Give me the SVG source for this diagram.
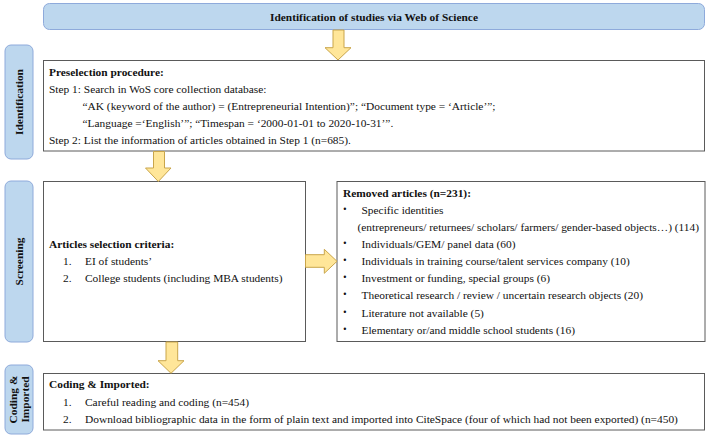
<svg xmlns="http://www.w3.org/2000/svg" width="708" height="438" viewBox="0 0 708 438">
<style>
text{font-family:"Liberation Serif","Times New Roman",serif;font-size:11.4px;fill:#111}
.b{font-weight:bold}
.lab{fill:#BDD7EE;stroke:#8EAADB;stroke-width:1}
.box{fill:#fff;stroke:#5a5a5a;stroke-width:1}
.arr{fill:#FFE699;stroke:#C9A54A;stroke-width:1}
.bul{font-family:"DejaVu Sans",sans-serif;font-size:8px}
</style>
<rect width="708" height="438" fill="#fff"/>
<g id="top">
<rect class="lab" x="43.5" y="3.5" width="661" height="26" rx="6"/>
<text class="b" x="374" y="20.5" text-anchor="middle">Identification of studies via Web of Science</text>
</g>
<g id="lab-identification">
<rect class="lab" x="5" y="45" width="28" height="114" rx="6"/>
<text class="b" transform="translate(23,102) rotate(-90)" text-anchor="middle">Identification</text>
</g>
<g id="lab-screening">
<rect class="lab" x="5" y="181" width="28" height="161" rx="6"/>
<text class="b" transform="translate(23,261.5) rotate(-90)" text-anchor="middle">Screening</text>
</g>
<g id="lab-coding">
<rect class="lab" x="5" y="365" width="28" height="69" rx="6"/>
<text class="b" transform="translate(17,399.5) rotate(-90)" text-anchor="middle">Coding &amp;</text>
<text class="b" transform="translate(29,399.5) rotate(-90)" text-anchor="middle">Imported</text>
</g>
<g id="preselection">
<rect class="box" x="43.5" y="60.5" width="661" height="90.5"/>
<text class="b" x="49" y="76">Preselection procedure:</text>
<text x="49" y="93">Step 1: Search in WoS core collection database:</text>
<text x="82.5" y="110">“AK (keyword of the author) = (Entrepreneurial Intention)”; “Document type = ‘Article’”;</text>
<text x="82.5" y="127">“Language =‘English’”; “Timespan = ‘2000-01-01 to 2020-10-31’”.</text>
<text x="49" y="144">Step 2: List the information of articles obtained in Step 1 (n=685).</text>
</g>
<g id="criteria">
<rect class="box" x="43.5" y="181.5" width="262" height="160"/>
<text class="b" x="49" y="247.5">Articles selection criteria:</text>
<text x="63" y="265">1.</text>
<text x="85" y="265">EI of students’</text>
<text x="63" y="282">2.</text>
<text x="85" y="282">College students (including MBA students)</text>
</g>
<g id="removed">
<rect class="box" x="337" y="181.5" width="368" height="160"/>
<text class="b" x="343" y="197.3">Removed articles (n=231):</text>
<text class="bul" x="342.5" y="212">•</text>
<text x="361.5" y="214">Specific identities</text>
<text x="357.5" y="230.7">(entrepreneurs/ returnees/ scholars/ farmers/ gender-based objects…) (114)</text>
<text class="bul" x="342.5" y="246">•</text>
<text x="361.5" y="248">Individuals/GEM/ panel data (60)</text>
<text class="bul" x="342.5" y="263">•</text>
<text x="361.5" y="265">Individuals in training course/talent services company (10)</text>
<text class="bul" x="342.5" y="280">•</text>
<text x="361.5" y="282">Investment or funding, special groups (6)</text>
<text class="bul" x="342.5" y="297.3">•</text>
<text x="361.5" y="299.3">Theoretical research / review / uncertain research objects (20)</text>
<text class="bul" x="342.5" y="314.7">•</text>
<text x="361.5" y="316.7">Literature not available (5)</text>
<text class="bul" x="342.5" y="332">•</text>
<text x="361.5" y="334">Elementary or/and middle school students (16)</text>
</g>
<g id="coding">
<rect class="box" x="43.5" y="373.5" width="661" height="56.5"/>
<text class="b" x="49" y="388">Coding &amp; Imported:</text>
<text x="63" y="405.7">1.</text>
<text x="85" y="405.7">Careful reading and coding (n=454)</text>
<text x="63" y="423.3">2.</text>
<text x="85" y="423.3">Download bibliographic data in the form of plain text and imported into CiteSpace (four of which had not been exported) (n=450)</text>
</g>
<g id="connectors">
<path class="arr" d="M333,30 H344 V47.7 H351 L338,60 L325,47.7 H333 Z"/>
<path class="arr" d="M153.5,151.5 H164.5 V168 H171 L158.3,181.5 L145.5,168 H153.5 Z"/>
<path class="arr" d="M305.5,254.7 H324.3 V249.3 L337,261.3 L324.3,273.3 V267.3 H305.5 Z"/>
<path class="arr" d="M166,342 H177.7 V360.7 H184 L171,373.3 L158,360.7 H166 Z"/>
</g>
</svg>
